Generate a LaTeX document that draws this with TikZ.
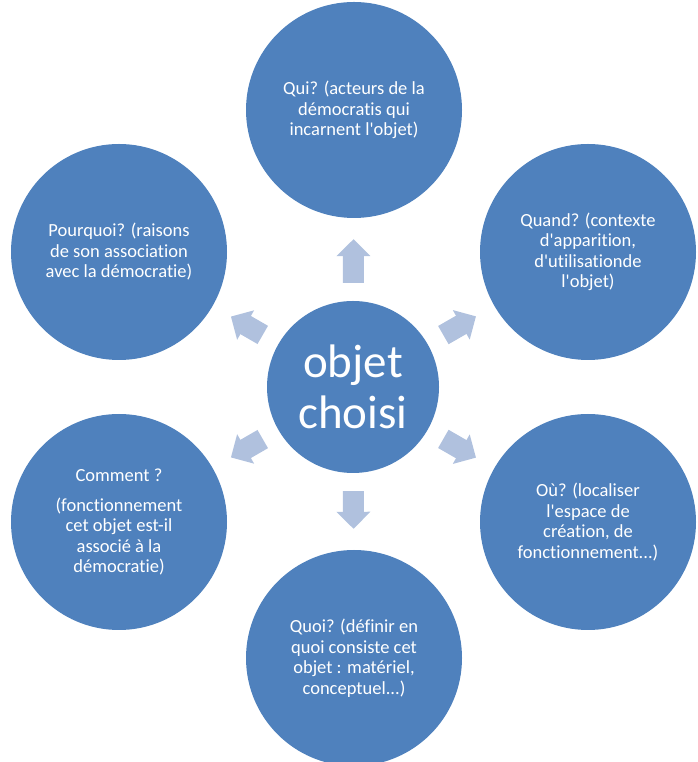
\documentclass[tikz,border=0pt]{standalone}
\usepackage{fontspec}
\setmainfont{Carlito}[Ligatures={NoCommon,NoContextual}]
\usetikzlibrary{arrows.meta}

\definecolor{circblue}{HTML}{4F81BD}
\definecolor{arrowblue}{HTML}{B0C1DE}

\begin{document}
\begin{tikzpicture}[x=1pt, y=1pt,
    bubble/.style={circle, fill=circblue, minimum size=216pt, inner sep=0pt,
        text=white, align=center, font=\fontsize{18.5}{20.5}\selectfont},
    pointer/.style={draw=arrowblue, line width=21pt, shorten <=18pt, shorten >=21pt,
        -{Triangle[width=33pt, length=17pt]}}]

    \useasboundingbox (0,0) rectangle (697,762);

    %% Centre
    \node[bubble, minimum size=172pt, font=\fontsize{47}{51}\selectfont] (objet) at (353,375) {objet\\choisi};

    %% Questions round the centre
    % Top
    \node[bubble] (qui) at (354,652) {Qui? (acteurs de la\\démocratis qui\\incarnent l\textquotesingle objet)};
    % Upper right
    \node[bubble] (quand) at (588,510) {Quand? (contexte\\d\textquotesingle apparition,\\d\textquotesingle utilisationde\\l\textquotesingle objet)};
    % Lower right
    \node[bubble] (ou) at (588,240) {Où? (localiser\\l\textquotesingle espace de\\création, de\\fonctionnement...)};
    % Bottom
    \node[bubble] (quoi) at (354,104) {Quoi? (définir en\\quoi consiste cet\\objet : matériel,\\conceptuel...)};
    % Lower left
    \node[bubble] (comment) at (119,240) {Comment ?\\[9pt](fonctionnement\\cet objet est-il\\associé à la\\démocratie)};
    % Upper left
    \node[bubble] (pourquoi) at (119,510) {Pourquoi? (raisons\\de son association\\avec la démocratie)};

    %% Block arrows
    \draw[pointer] (objet) -- (qui);
    \draw[pointer] (objet) -- (quand);
    \draw[pointer] (objet) -- (ou);
    \draw[pointer] (objet) -- (quoi);
    \draw[pointer] (objet) -- (comment);
    \draw[pointer] (objet) -- (pourquoi);

\end{tikzpicture}
\end{document}
